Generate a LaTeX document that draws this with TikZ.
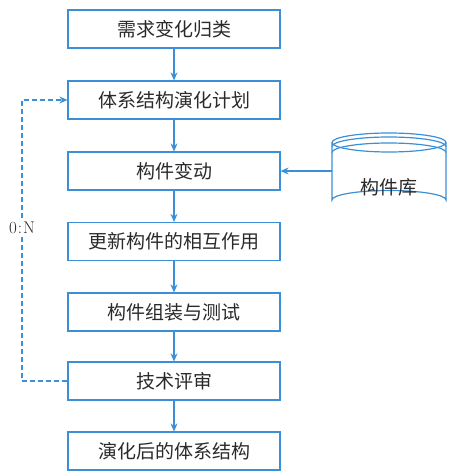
\documentclass[tikz,border=0pt]{standalone}
\usepackage{fontspec}
\newfontfamily\cjk{Noto Sans CJK SC}
\usetikzlibrary{arrows.meta}
\definecolor{lineblue}{HTML}{3A8FD6}
\definecolor{txt}{HTML}{2A2A2A}
\begin{document}
\begin{tikzpicture}[x=1pt,y=-1pt,
  stepbox/.style={draw=lineblue, line width=1.2pt, minimum width=212pt, minimum height=38pt,
    inner sep=0pt, text=txt, font=\cjk\fontsize{19}{19}\selectfont},
  flow/.style={draw=lineblue, line width=1.2pt, -{Stealth[length=8pt,width=7pt]}},
  loopline/.style={draw=lineblue, line width=1.2pt, dash pattern=on 5pt off 3pt, -{Stealth[length=8pt,width=7pt]}}
]
\useasboundingbox (0,0) rectangle (451,476);
\node[stepbox] (b1) at (174,29) {需求变化归类};
\node[stepbox] (b2) at (174,100) {体系结构演化计划};
\node[stepbox] (b3) at (174,171) {构件变动};
\node[stepbox] (b4) at (174,241.5) {更新构件的相互作用};
\node[stepbox] (b5) at (174,312) {构件组装与测试};
\node[stepbox] (b6) at (174,381) {技术评审};
\node[stepbox] (b7) at (174,451) {演化后的体系结构};
\draw[flow] (b1) -- (b2);
\draw[flow] (b2) -- (b3);
\draw[flow] (b3) -- (b4);
\draw[flow] (b4) -- (b5);
\draw[flow] (b5) -- (b6);
\draw[flow] (b6) -- (b7);
% cylinder (component library)
\begin{scope}[draw=lineblue, line width=1.2pt]
  \draw (389,142.5) ellipse [x radius=57, y radius=9.5];
  \draw (332,146.5) arc[start angle=180, end angle=360, x radius=57, y radius=9.5];
  \draw (332,152.5) arc[start angle=180, end angle=360, x radius=57, y radius=9.5];
  \draw (332,142.5) -- (332,200) arc[start angle=180, end angle=360, x radius=57, y radius=9.5] -- (446,142.5);
\end{scope}
\node[text=txt, font=\cjk\fontsize{19}{19}\selectfont] (lib) at (389,187) {构件库};
\coordinate (libw) at (332,171);
\draw[flow] (libw) -- (b3.east);
% feedback loop
\coordinate (loopc) at (22,381);
\draw[loopline] (b6.west) -- (loopc) |- (b2.west);
\node[fill=white, text=txt, inner sep=1pt, font=\fontsize{17}{17}\selectfont] (lbl) at (22,228) {0\kern1pt:\kern1ptN};
\end{tikzpicture}
\end{document}
